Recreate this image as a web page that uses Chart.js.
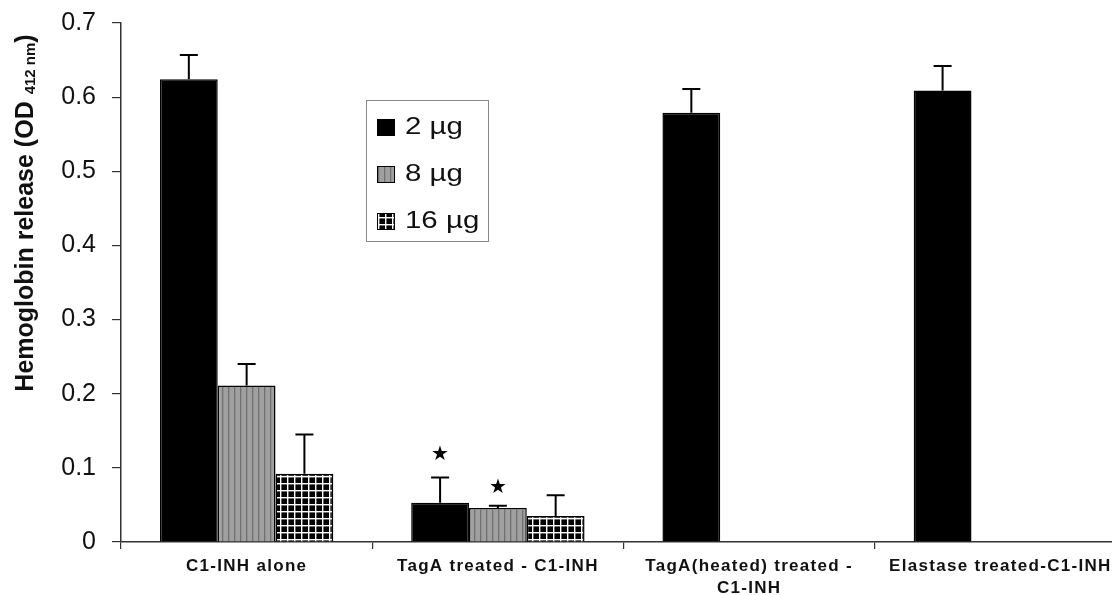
<!DOCTYPE html>
<html>
<head>
<meta charset="utf-8">
<script src="https://cdn.jsdelivr.net/npm/chart.js@4/dist/chart.umd.min.js"></script>
<style>
  html, body { margin: 0; padding: 0; background: #fff; overflow: hidden; }
  #janela { width: 1112px; height: 595px; overflow: hidden; position: relative; }
  #wrap { width: 1128px; height: 595px; position: absolute; left: 0; top: 0; }
</style>
</head>
<body>
<div id="janela"><div id="wrap"><canvas id="grafico"></canvas></div></div>
<script>
// ---- dados ----
const categorias = [
  ['C1-INH alone'],
  ['TagA treated - C1-INH'],
  ['TagA(heated) treated -', 'C1-INH'],
  ['Elastase treated-C1-INH']
];
const rotulos = ['2 µg', '8 µg', '16 µg'];

const dose2 = [0.624, 0.053, 0.579, 0.609];
const dose8 = [0.211, 0.046, null, null];
const dose16 = [0.092, 0.035, null, null];

const erro2 = [0.033, 0.034, 0.032, 0.033];
const erro8 = [0.029, 0.003, null, null];
const erro16 = [0.053, 0.028, null, null];

// asteriscos de significancia: serie, categoria, nivel
const estrelaSerie = [0, 1];
const estrelaCat = [1, 1];
const estrelaValor = [0.117, 0.073];

const ticksY = [0, 0.1, 0.2, 0.3, 0.4, 0.5, 0.6, 0.7];

// ---- padroes de preenchimento ----
function listrado() {
  const c = document.createElement('canvas');
  c.width = 6; c.height = 6;
  const g = c.getContext('2d');
  g.fillStyle = '#a0a0a0';
  g.fillRect(0, 0, 6, 6);
  g.fillStyle = '#707070';
  g.fillRect(0, 0, 1.3, 6);
  return g.createPattern(c, 'repeat');
}

function quadriculado() {
  const c = document.createElement('canvas');
  c.width = 7; c.height = 7;
  const g = c.getContext('2d');
  g.fillStyle = '#000';
  g.fillRect(0, 0, 7, 7);
  g.fillStyle = '#fff';
  g.fillRect(0, 0, 1.4, 7);
  g.fillRect(0, 0, 7, 1.4);
  return g.createPattern(c, 'repeat');
}

const cores = ['#000', listrado(), quadriculado()];
const erros = [erro2, erro8, erro16];
const fonte = 'Arial, "Liberation Sans"';

// texto esticado na horizontal (a figura original e mais larga)
function textoLargo(ctx, t, x, y, sx) {
  ctx.save();
  ctx.translate(x, y);
  ctx.scale(sx, 1);
  ctx.fillText(t, 0, 0);
  ctx.restore();
}

// ---- barras de erro, estrelas, legenda, titulo ----
const extras = {
  id: 'extras',
  afterDatasetsDraw(chart) {
    const ctx = chart.ctx;
    const y = chart.scales.y;
    ctx.save();
    ctx.strokeStyle = '#000';
    ctx.lineWidth = 2;
    chart.data.datasets.forEach((ds, i) => {
      const meta = chart.getDatasetMeta(i);
      meta.data.forEach((bar, j) => {
        const v = ds.data[j];
        const e = erros[i][j];
        if (v == null || e == null) return;
        const yTop = y.getPixelForValue(v + e);
        ctx.beginPath();
        ctx.moveTo(bar.x, bar.y);
        ctx.lineTo(bar.x, yTop);
        ctx.moveTo(bar.x - 9, yTop);
        ctx.lineTo(bar.x + 9, yTop);
        ctx.stroke();
      });
    });

    ctx.fillStyle = '#000';
    ctx.font = '20px "DejaVu Sans"';
    ctx.textAlign = 'center';
    ctx.textBaseline = 'middle';
    estrelaSerie.forEach((s, k) => {
      const bar = chart.getDatasetMeta(s).data[estrelaCat[k]];
      ctx.fillText('★', bar.x, y.getPixelForValue(estrelaValor[k]));
    });
    ctx.restore();
  },
  afterDraw(chart) {
    const ctx = chart.ctx;
    ctx.save();

    // legenda
    ctx.strokeStyle = '#888';
    ctx.lineWidth = 1;
    ctx.strokeRect(366.5, 100.5, 122, 141);
    ctx.font = '23px ' + fonte;
    ctx.textBaseline = 'middle';
    ctx.textAlign = 'left';
    rotulos.forEach((r, i) => {
      const cy = 127 + i * 47;
      ctx.fillStyle = cores[i];
      ctx.fillRect(377, cy - 8, 18, 17);
      ctx.strokeStyle = '#000';
      ctx.lineWidth = 1;
      ctx.strokeRect(377.5, cy - 7.5, 17, 16);
      ctx.fillStyle = '#111';
      textoLargo(ctx, r, 405, cy + 1, 1.28);
    });

    // rotulos do eixo x
    const x = chart.scales.x;
    ctx.font = 'bold 17px ' + fonte;
    ctx.letterSpacing = '1.3px';
    ctx.textAlign = 'center';
    ctx.fillStyle = '#111';
    categorias.forEach((linhas, i) => {
      const cx = x.getPixelForValue(i);
      linhas.forEach((t, k) => {
        ctx.fillText(t, cx, 566 + k * 22);
      });
    });
    ctx.letterSpacing = '0px';

    // titulo do eixo y com subscrito
    const partes = [
      ['Hemoglobin release (OD ', 'bold 25px ' + fonte, 0],
      ['412 nm', 'bold 15px ' + fonte, 5],
      [')', 'bold 25px ' + fonte, 0]
    ];
    let total = 0;
    partes.forEach(p => { ctx.font = p[1]; total += ctx.measureText(p[0]).width; });
    ctx.translate(26, 213);
    ctx.rotate(-Math.PI / 2);
    ctx.textAlign = 'left';
    ctx.textBaseline = 'middle';
    let px = -total / 2;
    partes.forEach(p => {
      ctx.font = p[1];
      ctx.fillText(p[0], px, p[2]);
      px += ctx.measureText(p[0]).width;
    });
    ctx.restore();
  }
};

new Chart(document.getElementById('grafico'), {
  type: 'bar',
  data: {
    labels: categorias,
    datasets: rotulos.map((r, i) => ({
      label: r,
      data: [dose2, dose8, dose16][i],
      backgroundColor: cores[i],
      borderColor: '#000',
      borderWidth: 1.5,
      categoryPercentage: 0.69,
      barPercentage: 1
    }))
  },
  options: {
    responsive: true,
    maintainAspectRatio: false,
    animation: false,
    layout: { padding: { top: 23, right: 2, left: 0, bottom: 0 } },
    plugins: {
      legend: { display: false },
      tooltip: { enabled: false }
    },
    scales: {
      x: {
        grid: { display: true, drawOnChartArea: false, drawTicks: true, tickLength: 7, color: '#333', lineWidth: 1.2 },
        border: { color: '#333', width: 1.5 },
        ticks: { display: false },
        afterFit: s => { s.height = 53; s.paddingLeft = 0; s.paddingRight = 0; }
      },
      y: {
        min: 0,
        max: 0.7,
        afterBuildTicks: s => { s.ticks = ticksY.map(v => ({ value: v })); },
        grid: { display: true, drawOnChartArea: false, drawTicks: true, tickLength: 9, color: '#333', lineWidth: 1.2 },
        border: { color: '#333', width: 1.5 },
        ticks: {
          color: '#111',
          padding: 16,
          font: { family: fonte, size: 25, lineHeight: 1 },
          callback: v => v === 0 ? '0' : v.toFixed(1)
        },
        afterFit: s => { s.width = 121; s.paddingTop = 0; s.paddingBottom = 0; }
      }
    }
  },
  plugins: [extras]
});
</script>
</body>
</html>
